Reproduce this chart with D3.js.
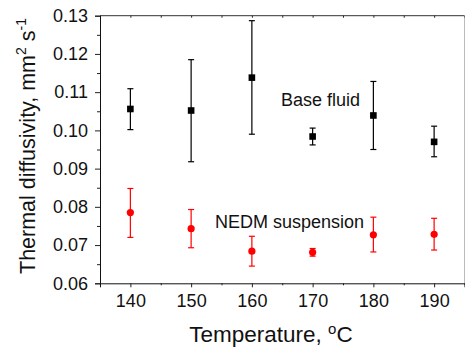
<!DOCTYPE html>
<html>
<head>
<meta charset="utf-8">
<script src="https://cdn.jsdelivr.net/npm/d3@7"></script>
<style>
  html, body { margin: 0; padding: 0; background: #fff; }
  svg { display: block; }
  text { font-family: "Liberation Sans", Arial, sans-serif; fill: #111; }
</style>
</head>
<body>
<svg id="chart" width="465" height="348"></svg>
<script>
// ---- Data ----
const temps = [140, 150, 160, 170, 180, 190];
const baseMean = [0.1056, 0.1052, 0.1138, 0.0984, 0.1039, 0.0970];
const baseLow  = [0.1002, 0.0918, 0.0990, 0.0962, 0.0950, 0.0931];
const baseHigh = [0.1109, 0.1185, 0.1287, 0.1006, 0.1128, 0.1011];
const nedmMean = [0.0785, 0.0743, 0.0684, 0.0681, 0.0727, 0.0728];
const nedmLow  = [0.0720, 0.0693, 0.0645, 0.0671, 0.0682, 0.0687];
const nedmHigh = [0.0848, 0.0793, 0.0723, 0.0691, 0.0773, 0.0770];
const xTicks = [140, 150, 160, 170, 180, 190];
const xMinorTicks = [135, 145, 155, 165, 175, 185, 195];
const yTicks = [0.06, 0.07, 0.08, 0.09, 0.10, 0.11, 0.12, 0.13];
const yMinorTicks = [0.065, 0.075, 0.085, 0.095, 0.105, 0.115, 0.125];

const svg = d3.select("#chart");
const L = 100, R = 464.5, T = 15.7, B = 283.3;

const x = d3.scaleLinear().domain([135, 195]).range([L, R]);
const y = d3.scaleLinear().domain([0.06, 0.13]).range([B, T]);

// frame: top and right
svg.append("line").attr("x1", L).attr("x2", R).attr("y1", T).attr("y2", T)
  .attr("stroke", "#333").attr("stroke-width", 1);
svg.append("line").attr("x1", R).attr("x2", R).attr("y1", T).attr("y2", B)
  .attr("stroke", "#bbb").attr("stroke-width", 1);

// top axis ticks (inward)
const topAx = svg.append("g").attr("transform", `translate(0,${T})`)
  .call(d3.axisBottom(x).tickValues(xTicks.concat(xMinorTicks)).tickSize(2).tickFormat(""));
topAx.select(".domain").remove();

// y axis
const yMinor = svg.append("g").attr("transform", `translate(${L},0)`)
  .call(d3.axisLeft(y).tickValues(yMinorTicks).tickSize(3).tickFormat(""));
yMinor.select(".domain").remove();
const yAx = svg.append("g").attr("transform", `translate(${L},0)`)
  .call(d3.axisLeft(y).tickValues(yTicks).tickSize(5).tickPadding(7).tickFormat(d3.format(".2f")));
yAx.select(".domain").attr("stroke", "#111");
yAx.selectAll("text").style("font-size", "18px").attr("fill", "#111");

// x axis
const xMinor = svg.append("g").attr("transform", `translate(0,${B})`)
  .call(d3.axisBottom(x).tickValues(xMinorTicks).tickSize(2).tickFormat(""));
xMinor.select(".domain").remove();
const xAx = svg.append("g").attr("transform", `translate(0,${B})`)
  .call(d3.axisBottom(x).tickValues(xTicks).tickSize(4).tickPadding(7).tickFormat(d3.format("d")));
xAx.select(".domain").attr("stroke", "#111");
xAx.selectAll("text").style("font-size", "18px").attr("fill", "#111");
svg.selectAll("g line").attr("stroke", "#222");

// axis titles
const xt = svg.append("text").attr("x", 271).attr("y", 341.5)
  .attr("text-anchor", "middle").style("font-size", "22.5px");
xt.append("tspan").text("Temperature, ");
xt.append("tspan").attr("dy", -8).style("font-size", "15px").text("o");
xt.append("tspan").attr("dy", 8).text("C");

const yt = svg.append("text").attr("transform", "translate(35,146) rotate(-90)")
  .attr("text-anchor", "middle").style("font-size", "21.5px");
yt.append("tspan").text("Thermal diffusivity, mm");
yt.append("tspan").attr("dy", -9).style("font-size", "14px").text("2");
yt.append("tspan").attr("dy", 9).text(" s");
yt.append("tspan").attr("dy", -9).style("font-size", "14px").text("-1");

// series drawing
function drawSeries(means, lows, highs, color, shape) {
  const g = svg.append("g");
  const cap = 3;
  temps.forEach((t, i) => {
    const cx = x(t);
    g.append("line").attr("x1", cx).attr("x2", cx)
      .attr("y1", y(lows[i])).attr("y2", y(highs[i]))
      .attr("stroke", color).attr("stroke-width", 1.2);
    [lows[i], highs[i]].forEach(v => {
      g.append("line").attr("x1", cx - cap).attr("x2", cx + cap)
        .attr("y1", y(v)).attr("y2", y(v))
        .attr("stroke", color).attr("stroke-width", 1.2);
    });
    if (shape === "square") {
      g.append("rect").attr("x", cx - 3.3).attr("y", y(means[i]) - 3.3)
        .attr("width", 6.6).attr("height", 6.6).attr("fill", color);
    } else {
      g.append("circle").attr("cx", cx).attr("cy", y(means[i]))
        .attr("r", 3.6).attr("fill", color);
    }
  });
}
drawSeries(baseMean, baseLow, baseHigh, "#000", "square");
drawSeries(nedmMean, nedmLow, nedmHigh, "#ff0000", "circle");

// annotations
svg.append("text").attr("x", 281).attr("y", 106).style("font-size", "18px").text("Base fluid");
svg.append("text").attr("x", 215).attr("y", 227.5).style("font-size", "18px").text("NEDM suspension");
</script>
</body>
</html>
